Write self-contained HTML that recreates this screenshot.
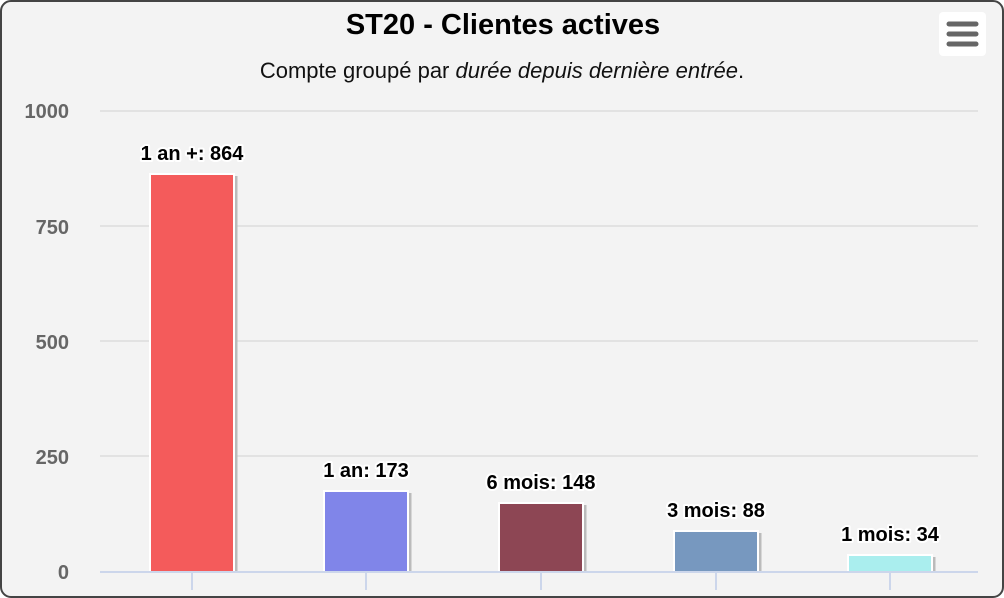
<!DOCTYPE html>
<html><head><meta charset="utf-8"><style>
html,body{margin:0;padding:0;background:#fff;}
svg{display:block;font-family:"Liberation Sans","DejaVu Sans",sans-serif;}
</style></head><body>
<svg width="1004" height="598" viewBox="0 0 1004 598">
<rect x="1" y="1" width="1002" height="596" rx="10" fill="#f3f3f3" stroke="#444" stroke-width="2"/>
<text x="503" y="34" text-anchor="middle" font-size="29" font-weight="bold" fill="#000">ST20 - Clientes actives</text>
<text x="502" y="78" text-anchor="middle" font-size="22" fill="#111">Compte groupé par <tspan font-style="italic">durée depuis dernière entrée</tspan>.</text>
<rect x="939" y="12" width="47" height="44" rx="4" fill="#fff"/>
<g stroke="#666" stroke-width="5" stroke-linecap="round"><line x1="949" y1="24" x2="976" y2="24"/><line x1="949" y1="34" x2="976" y2="34"/><line x1="949" y1="44" x2="976" y2="44"/></g>
<g stroke="#e2e2e2" stroke-width="2"><line x1="100" y1="111" x2="978" y2="111"/><line x1="100" y1="226" x2="978" y2="226"/><line x1="100" y1="341" x2="978" y2="341"/><line x1="100" y1="456" x2="978" y2="456"/></g>
<g font-size="20" font-weight="bold" fill="#666" text-anchor="end"><text x="69" y="118">1000</text><text x="69" y="234">750</text><text x="69" y="349">500</text><text x="69" y="464">250</text><text x="69" y="579">0</text></g>
<g stroke="#bbb" stroke-width="3">
<line x1="236" y1="176" x2="236" y2="571"/><line x1="410" y1="493" x2="410" y2="571"/><line x1="585" y1="505" x2="585" y2="571"/><line x1="760" y1="533" x2="760" y2="571"/><line x1="934" y1="557" x2="934" y2="571"/></g>
<g stroke="#fff" stroke-width="2">
<rect x="150" y="174" width="84" height="398" fill="#f45b5b"/>
<rect x="324" y="491" width="84" height="81" fill="#8085e9"/>
<rect x="499" y="503" width="84" height="69" fill="#8d4654"/>
<rect x="674" y="531" width="84" height="41" fill="#7798bf"/>
<rect x="848" y="555" width="84" height="17" fill="#aaeeee"/>
</g>
<line x1="100" y1="572" x2="978" y2="572" stroke="#ccd6eb" stroke-width="2"/>
<g stroke="#ccd6eb" stroke-width="2"><line x1="192" y1="572" x2="192" y2="590"/><line x1="366" y1="572" x2="366" y2="590"/><line x1="541" y1="572" x2="541" y2="590"/><line x1="716" y1="572" x2="716" y2="590"/><line x1="890" y1="572" x2="890" y2="590"/></g>
<g font-size="20" font-weight="bold" fill="#000" text-anchor="middle" stroke="#fff" stroke-width="4" paint-order="stroke" stroke-linejoin="round">
<text x="192" y="160">1 an +: 864</text>
<text x="366" y="477">1 an: 173</text>
<text x="541" y="489">6 mois: 148</text>
<text x="716" y="517">3 mois: 88</text>
<text x="890" y="541">1 mois: 34</text>
</g>
</svg>
</body></html>
